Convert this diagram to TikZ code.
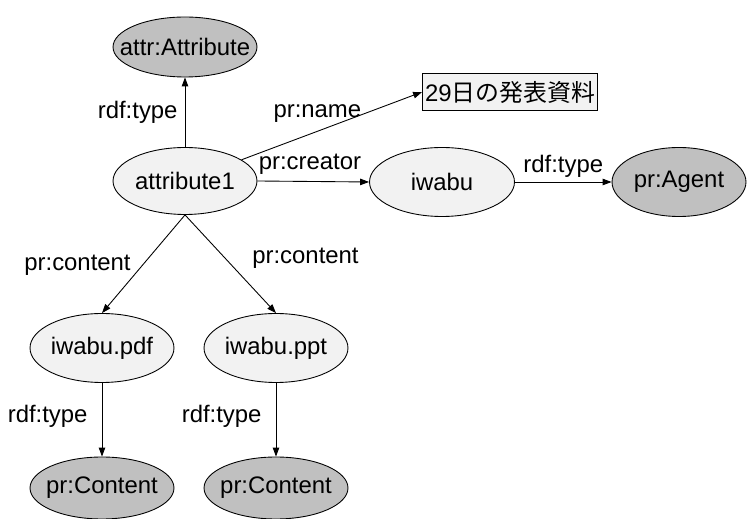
\documentclass[tikz,border=0pt]{standalone}
\usepackage{fontspec}
\setmainfont{Liberation Sans}
\newfontfamily\jpfont{Noto Sans CJK JP}
\usetikzlibrary{shapes.geometric,arrows.meta}
\definecolor{resfill}{HTML}{F2F2F2}
\definecolor{classfill}{HTML}{C0C0C0}

\begin{document}
\begin{tikzpicture}[x=0.02cm,y=-0.02cm,
    font=\fontsize{13.6}{16}\selectfont,
    res/.style={ellipse,draw,line width=0.5pt,fill=resfill,inner xsep=-9pt,inner ysep=0pt,
      minimum width=2.88cm,minimum height=1.38cm},
    cls/.style={res,fill=classfill},
    lit/.style={rectangle,draw,line width=0.5pt,fill=resfill,inner sep=0pt,
      minimum width=3.5cm,minimum height=0.74cm},
    prop/.style={inner sep=2pt},
    arc/.style={line width=0.5pt,-{Triangle[length=1.8mm,width=1.3mm]}}]
  \useasboundingbox (0,0) rectangle (747,519);
  % resources and classes
  \node[cls,minimum height=1.2cm] (attr) at (185,47) {attr:Attribute};
  \node[res,minimum height=1.34cm] (attribute1) at (185,181) {attribute1};
  \node[lit] (name) at (510,92) {29{\jpfont 日の発表資料}};
  \node[res,minimum width=2.9cm] (iwabu) at (442,182) {iwabu};
  \node[cls,minimum width=2.68cm] (agent) at (679,182) {pr:Agent};
  \node[res] (pdf) at (102,348) {iwabu.pdf};
  \node[res] (ppt) at (276,348) {iwabu.ppt};
  \node[cls,minimum height=1.24cm] (cpdf) at (102,488) {pr:Content};
  \node[cls,minimum height=1.24cm] (cppt) at (276,488) {pr:Content};
  % properties
  \draw[arc] (attribute1.north) -- node[prop,left=2pt] {rdf:type} (attr.south);
  \draw[arc] (attribute1) -- node[prop,pos=0.42,above=3pt] {pr:name} (name.west);
  \draw[arc] (attribute1.east) -- node[prop,pos=0.47,above=2pt] {pr:creator} (iwabu.west);
  \draw[arc] (iwabu.east) -- node[prop,above=0.5pt] {rdf:type} (agent.west);
  \draw[arc] (attribute1.south) -- node[prop,pos=0.51,left=4.6pt] {pr:content} (pdf.north);
  \draw[arc] (attribute1.south) -- node[prop,pos=0.44,right=13.3pt] {pr:content} (ppt.north);
  \draw[arc] (pdf.south) -- node[prop,pos=0.45,left=6pt] {rdf:type} (cpdf.north);
  \draw[arc] (ppt.south) -- node[prop,pos=0.45,left=6pt] {rdf:type} (cppt.north);
\end{tikzpicture}
\end{document}
